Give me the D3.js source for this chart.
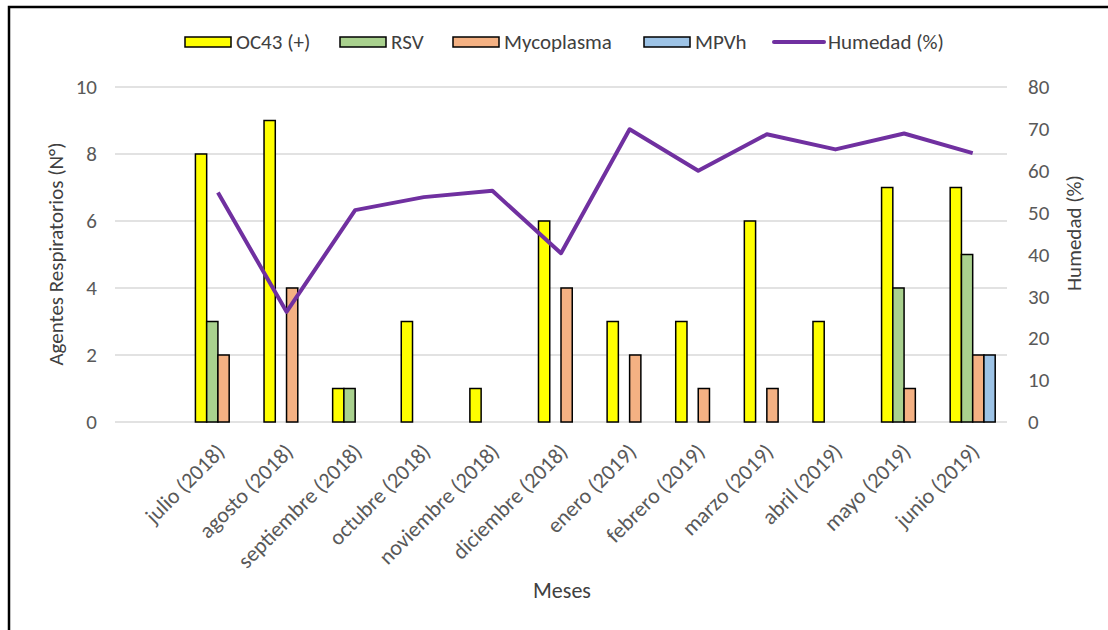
<!DOCTYPE html>
<html>
<head>
<meta charset="utf-8">
<script src="https://cdn.jsdelivr.net/npm/d3@7"></script>
<style>
  html, body { margin: 0; padding: 0; background: #fff; }
  svg { display: block; font-family: Carlito, Calibri, Lato, sans-serif; }
</style>
</head>
<body>
<svg id="chart" width="1108" height="630"></svg>
<script>
// Monthly respiratory agents and relative humidity
const months = ["julio (2018)", "agosto (2018)", "septiembre (2018)", "octubre (2018)",
  "noviembre (2018)", "diciembre (2018)", "enero (2019)", "febrero (2019)",
  "marzo (2019)", "abril (2019)", "mayo (2019)", "junio (2019)"];
const seriesNames = ["OC43 (+)", "RSV", "Mycoplasma", "MPVh"];
const oc43       = [8, 9, 1, 3, 1, 6, 3, 3, 6, 3, 7, 7];
const rsv        = [3, 0, 1, 0, 0, 0, 0, 0, 0, 0, 4, 5];
const mycoplasma = [2, 4, 0, 0, 0, 4, 2, 1, 1, 0, 1, 2];
const mpvh       = [0, 0, 0, 0, 0, 0, 0, 0, 0, 0, 0, 2];
const humedad    = [54.8, 26.3, 50.6, 53.7, 55.2, 40.3, 69.9, 60.0, 68.7, 65.1, 68.9, 64.2];
const leftTicks  = [0, 2, 4, 6, 8, 10];
const rightTicks = [0, 10, 20, 30, 40, 50, 60, 70, 80];

const seriesValues = [oc43, rsv, mycoplasma, mpvh];
const fills = ["#FFFF00", "#A9D18E", "#F4B183", "#9DC3E6"];
const lineColor = "#7030A0";
const textColor = "#595959";
const fontStack = "Carlito, Calibri, Lato, sans-serif";

const svg = d3.select("#chart");
const plot = { left: 115, right: 1007, top: 87, bottom: 422 };

// outer frame
svg.append("path")
  .attr("d", `M9,632 L9,7 L1112,7`)
  .attr("fill", "none").attr("stroke", "#000").attr("stroke-width", 2.5);

// category axis: a leading empty slot precedes the first month
const slots = ["_"].concat(months);
const x = d3.scaleBand().domain(slots).range([plot.left, plot.right]);
const groupW = x.bandwidth() * 0.656;
const xs = d3.scaleBand().domain(seriesNames)
  .range([(x.bandwidth() - groupW) / 2, (x.bandwidth() + groupW) / 2]);

const yL = d3.scaleLinear().domain([0, 10]).range([plot.bottom, plot.top]);
const yR = d3.scaleLinear().domain([0, 80]).range([plot.bottom, plot.top]);

// gridlines
svg.append("g").selectAll("line").data(leftTicks).join("line")
  .attr("x1", plot.left).attr("x2", plot.right)
  .attr("y1", d => yL(d)).attr("y2", d => yL(d))
  .attr("stroke", "#D9D9D9").attr("stroke-width", 1.5);

// left axis
const axL = svg.append("g").attr("transform", `translate(${plot.left},0)`)
  .call(d3.axisLeft(yL).tickValues(leftTicks).tickSize(0).tickPadding(18));
axL.select(".domain").remove();
axL.selectAll("text").attr("fill", textColor).style("font-size", "21px")
  .style("font-family", fontStack);

// right axis
const axR = svg.append("g").attr("transform", `translate(${plot.right},0)`)
  .call(d3.axisRight(yR).tickValues(rightTicks).tickSize(0).tickPadding(21));
axR.select(".domain").remove();
axR.selectAll("text").attr("fill", textColor).style("font-size", "21px")
  .style("font-family", fontStack);

// bars
const barRows = [];
months.forEach((m, i) => {
  seriesNames.forEach((s, j) => {
    barRows.push({ month: m, series: s, value: seriesValues[j][i], fill: fills[j] });
  });
});
svg.append("g").selectAll("rect").data(barRows.filter(d => d.value > 0)).join("rect")
  .attr("x", d => x(d.month) + xs(d.series))
  .attr("width", xs.bandwidth())
  .attr("y", d => yL(d.value))
  .attr("height", d => yL(0) - yL(d.value))
  .attr("fill", d => d.fill)
  .attr("stroke", "#000").attr("stroke-width", 1.5);

// humidity line
const line = d3.line()
  .x((d, i) => x(months[i]) + x.bandwidth() / 2)
  .y(d => yR(d));
svg.append("path").datum(humedad)
  .attr("d", line)
  .attr("fill", "none").attr("stroke", lineColor)
  .attr("stroke-width", 4).attr("stroke-linejoin", "round");

// month labels
svg.append("g").selectAll("text").data(months).join("text")
  .attr("transform", d => `translate(${x(d) + x.bandwidth() / 2 + 8},453) rotate(-45)`)
  .attr("text-anchor", "end")
  .attr("fill", textColor).style("font-size", "22px")
  .text(d => d);

// axis titles
svg.append("text")
  .attr("transform", `translate(63,254) rotate(-90)`)
  .attr("text-anchor", "middle").attr("fill", "#404040").style("font-size", "21px")
  .text("Agentes Respiratorios (N°)");
svg.append("text")
  .attr("transform", `translate(1081,233) rotate(-90)`)
  .attr("text-anchor", "middle").attr("fill", "#404040").style("font-size", "21px")
  .text("Humedad (%)");
svg.append("text")
  .attr("x", 562).attr("y", 598)
  .attr("text-anchor", "middle").attr("fill", "#404040").style("font-size", "22px")
  .text("Meses");

// legend
const legendItems = [
  { name: seriesNames[0], x: 185, kind: "rect", color: fills[0] },
  { name: seriesNames[1], x: 340, kind: "rect", color: fills[1] },
  { name: seriesNames[2], x: 453, kind: "rect", color: fills[2] },
  { name: seriesNames[3], x: 644, kind: "rect", color: fills[3] },
  { name: "Humedad (%)", x: 774, kind: "line", color: lineColor }
];
const lg = svg.append("g").selectAll("g").data(legendItems).join("g")
  .attr("transform", d => `translate(${d.x},0)`);
lg.filter(d => d.kind === "rect").append("rect")
  .attr("x", 0).attr("y", 37).attr("width", 46).attr("height", 10)
  .attr("fill", d => d.color).attr("stroke", "#000").attr("stroke-width", 1.5);
lg.filter(d => d.kind === "line").append("line")
  .attr("x1", 0).attr("x2", 50).attr("y1", 42).attr("y2", 42)
  .attr("stroke", d => d.color).attr("stroke-width", 4).attr("stroke-linecap", "round");
lg.append("text")
  .attr("x", d => d.kind === "line" ? 54 : 51).attr("y", 49)
  .attr("fill", "#404040").style("font-size", "21px")
  .text(d => d.name);
</script>
</body>
</html>
